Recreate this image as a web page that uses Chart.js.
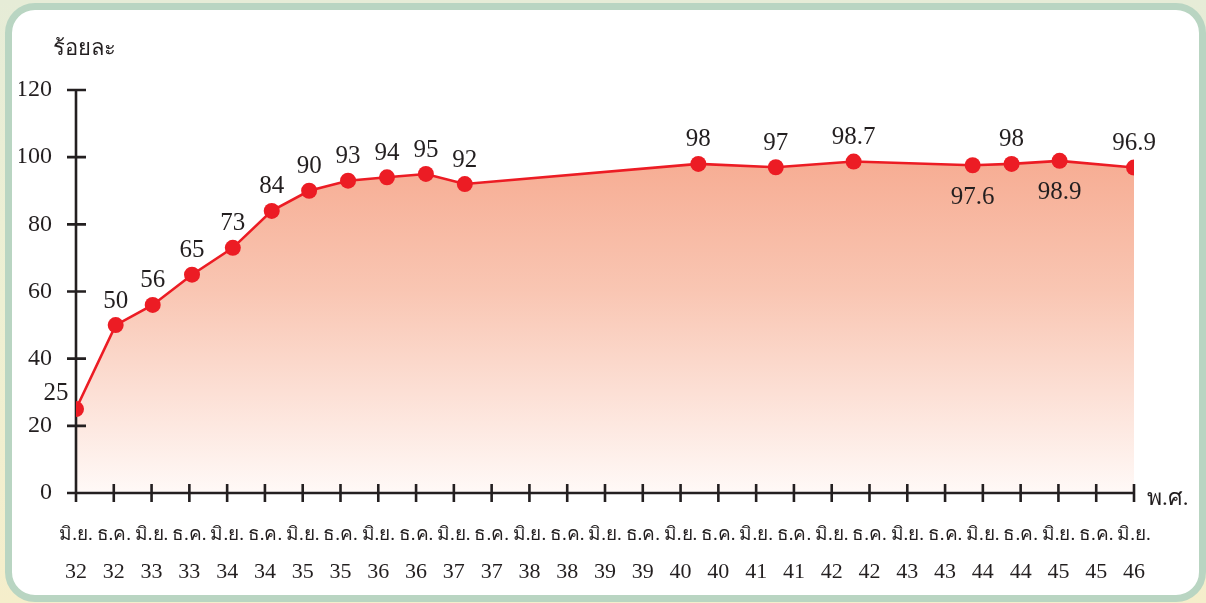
<!DOCTYPE html>
<html lang="th">
<head>
<meta charset="utf-8">
<script src="https://cdn.jsdelivr.net/npm/chart.js@4.4.1/dist/chart.umd.min.js"></script>
<style>
  html, body { margin: 0; padding: 0; }
  body { width: 1206px; height: 603px; overflow: hidden; position: relative;
         background: linear-gradient(180deg, #e6ecd7 0%, #eef0d3 50%, #f5eecb 100%); }
  #panel { position: absolute; left: 5px; top: 3px; width: 1201px; height: 599px; box-sizing: border-box;
           background: #ffffff; border: 7px solid #b9d5c2; border-radius: 30px; }
  #wrap { position: absolute; left: 0; top: 0; width: 1206px; height: 603px; }
  .txt { position: absolute; font-family: 'Liberation Serif', 'DejaVu Serif', serif; color: #231f20; white-space: nowrap; }
</style>
</head>
<body>
<div id="panel"></div>
<div id="wrap"><canvas id="c" width="1206" height="603"></canvas></div>
<div class="txt" style="left:53px; top:30px; font-size:22px;">ร้อยละ</div>
<div class="txt" style="left:1147px; top:479px; font-size:23px;">พ.ศ.</div>
<script>
// ---- data ----
const tickMonths = ['มิ.ย.','ธ.ค.','มิ.ย.','ธ.ค.','มิ.ย.','ธ.ค.','มิ.ย.','ธ.ค.','มิ.ย.','ธ.ค.',
                    'มิ.ย.','ธ.ค.','มิ.ย.','ธ.ค.','มิ.ย.','ธ.ค.','มิ.ย.','ธ.ค.','มิ.ย.','ธ.ค.',
                    'มิ.ย.','ธ.ค.','มิ.ย.','ธ.ค.','มิ.ย.','ธ.ค.','มิ.ย.','ธ.ค.','มิ.ย.'];
const tickYears  = ['32','32','33','33','34','34','35','35','36','36',
                    '37','37','38','38','39','39','40','40','41','41',
                    '42','42','43','43','44','44','45','45','46'];
// positions of survey points along the time axis (in half-year steps from มิ.ย. 32)
const pointTimes  = [0, 1.05, 2.03, 3.07, 4.15, 5.18, 6.17, 7.2, 8.23, 9.26, 10.29, 16.47, 18.52, 20.58, 23.73, 24.76, 26.03, 28];
const pointValues = [25, 50, 56, 65, 73, 84, 90, 93, 94, 95, 92, 98, 97, 98.7, 97.6, 98, 98.9, 96.9];
const valueLabels = ['25','50','56','65','73','84','90','93','94','95','92','98','97','98.7','97.6','98','98.9','96.9'];
const labelPlace  = ['left','top','top','top','top','top','top','top','top','top','top','top','top','top','bottom','top','bottom','top'];
const yTicks = [0, 20, 40, 60, 80, 100, 120];

const INK = '#231f20';
const RED = '#ec1c24';
const SERIF = "'Liberation Serif', 'DejaVu Serif', serif";

// axes are drawn after the area fill (Filler runs first) but before the line and points
const axisPlugin = {
  id: 'axisMarks',
  beforeDatasetDraw(chart) {
    const { ctx, scales: { x, y } } = chart;
    ctx.save();
    ctx.strokeStyle = INK;
    ctx.lineWidth = 2.6;
    ctx.lineCap = 'butt';
    const y0 = y.getPixelForValue(0);
    const x0 = x.getPixelForValue(0);
    ctx.beginPath();
    ctx.moveTo(x0, y0);
    ctx.lineTo(x.getPixelForValue(28), y0);
    ctx.moveTo(x0, y.getPixelForValue(120));
    ctx.lineTo(x0, y0);
    for (let i = 0; i < tickYears.length; i++) {
      const px = x.getPixelForValue(i);
      ctx.moveTo(px, y0 - 9);
      ctx.lineTo(px, y0 + 9);
    }
    yTicks.forEach(v => {
      const py = y.getPixelForValue(v);
      ctx.moveTo(x0 - 9, py);
      ctx.lineTo(x0 + 10, py);
    });
    ctx.stroke();
    ctx.restore();
  }
};

const labelPlugin = {
  id: 'valueLabels',
  afterDatasetsDraw(chart) {
    const { ctx } = chart;
    const meta = chart.getDatasetMeta(0);
    ctx.save();
    ctx.fillStyle = INK;
    ctx.font = '25px ' + SERIF;
    ctx.textAlign = 'center';
    ctx.textBaseline = 'middle';
    meta.data.forEach((pt, i) => {
      let tx = pt.x, ty = pt.y;
      if (labelPlace[i] === 'top') ty -= 24;
      else if (labelPlace[i] === 'bottom') ty += 32;
      else { tx -= 20; ty -= 16; }
      ctx.fillText(valueLabels[i], tx, ty);
    });
    ctx.restore();
  }
};

const baseX = {
  type: 'linear',
  position: 'bottom',
  min: 0, max: 28,
  grid: { display: false, drawTicks: false },
  border: { display: false }
};

new Chart(document.getElementById('c'), {
  type: 'line',
  data: {
    datasets: [{
      data: pointTimes.map((t, i) => ({ x: t, y: pointValues[i] })),
      borderColor: RED,
      borderWidth: 2.6,
      pointRadius: 8,
      pointHoverRadius: 8,
      pointBackgroundColor: RED,
      pointBorderColor: RED,
      pointBorderWidth: 0,
      tension: 0,
      fill: 'origin',
      backgroundColor(ctx) {
        const a = ctx.chart.chartArea;
        if (!a) return 'rgba(245,160,131,0.8)';
        const g = ctx.chart.ctx.createLinearGradient(0, a.top, 0, a.bottom);
        g.addColorStop(0, '#f59f82');
        g.addColorStop(0.5, '#f9c6b3');
        g.addColorStop(1, '#fff9f7');
        return g;
      }
    }]
  },
  options: {
    responsive: false,
    animation: false,
    events: [],
    layout: { padding: { left: 19, right: 72, top: 90, bottom: 0 } },
    plugins: { legend: { display: false }, tooltip: { enabled: false } },
    scales: {
      x: Object.assign({}, baseX, {
        weight: 0,
        afterFit(scale) { scale.height = 60; },
        ticks: {
          stepSize: 1, autoSkip: false, maxRotation: 0,
          padding: 31,
          color: INK,
          font: { family: SERIF, size: 19, lineHeight: 1.2 },
          callback: (v) => Number.isInteger(v) ? tickMonths[v] : ''
        }
      }),
      x2: Object.assign({}, baseX, {
        weight: 1,
        afterFit(scale) { scale.height = 50; },
        ticks: {
          stepSize: 1, autoSkip: false, maxRotation: 0,
          padding: 6,
          color: INK,
          font: { family: SERIF, size: 22, lineHeight: 1.2 },
          callback: (v) => Number.isInteger(v) ? tickYears[v] : ''
        }
      }),
      y: {
        min: 0, max: 120,
        grid: { display: false, drawTicks: false },
        border: { display: false },
        afterBuildTicks(scale) { scale.ticks = yTicks.map(v => ({ value: v })); },
        afterFit(scale) { scale.width = 57; },
        ticks: {
          padding: 24,
          color: INK,
          font: { family: SERIF, size: 24 }
        }
      }
    }
  },
  plugins: [axisPlugin, labelPlugin]
});
</script>
</body>
</html>
